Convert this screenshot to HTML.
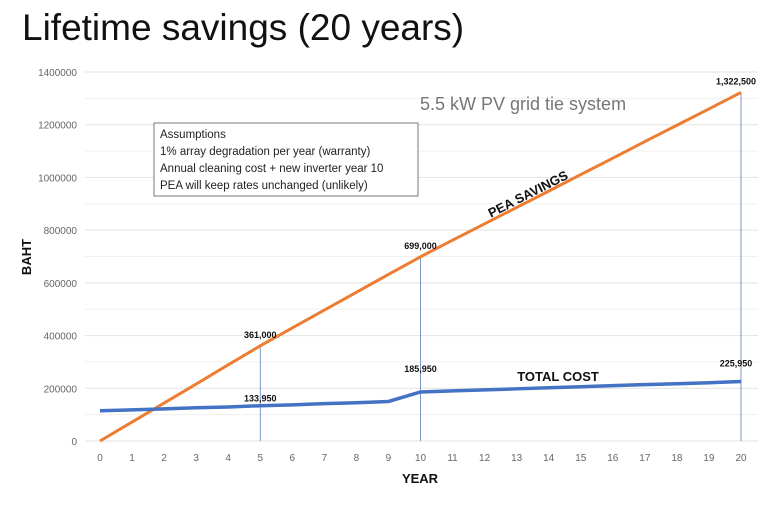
<!DOCTYPE html>
<html><head><meta charset="utf-8"><style>
body{margin:0;background:#fff;width:770px;height:510px;overflow:hidden;font-family:"Liberation Sans",sans-serif}
svg{position:absolute;left:0;top:0}
</style></head><body>
<svg id="c" width="770" height="510">
<text x="22" y="40" font-size="37" fill="#111">Lifetime savings (20 years)</text>
<g id="grid"></g><g id="yt"></g><g id="xt"></g><g id="drops"></g><g id="lines"></g><g id="lbls"></g>
<text x="420" y="110" font-size="18" fill="#777">5.5 kW PV grid tie system</text>
<g>
<rect x="154" y="123" width="264" height="73" fill="#fff" stroke="#777" stroke-width="1"/>
<text x="160" y="138" font-size="11.5" fill="#222">Assumptions</text>
<text x="160" y="155" font-size="11.5" fill="#222">1% array degradation per year (warranty)</text>
<text x="160" y="172" font-size="11.5" fill="#222">Annual cleaning cost + new inverter year 10</text>
<text x="160" y="189" font-size="11.5" fill="#222">PEA will keep rates unchanged (unlikely)</text>
</g>
<text x="530" y="198" font-size="13" font-weight="bold" fill="#111" transform="rotate(-27 530 198)" text-anchor="middle">PEA SAVINGS</text>
<text x="558" y="381" font-size="13" font-weight="bold" fill="#111" text-anchor="middle">TOTAL COST</text>
<text x="420" y="483" font-size="13" font-weight="bold" fill="#111" text-anchor="middle">YEAR</text>
<text x="31" y="257" font-size="13" font-weight="bold" fill="#111" text-anchor="middle" transform="rotate(-90 31 257)">BAHT</text>
</svg>
<script>
const years=[0,1,2,3,4,5,6,7,8,9,10,11,12,13,14,15,16,17,18,19,20];
const savings=[0,72000,144000,216000,289000,361000,429000,497000,564000,632000,699000,762000,824000,886000,948000,1011000,1073000,1136000,1198000,1260000,1322500];
const cost=[115000,118000,122000,126000,129000,133950,137000,142000,145000,150000,185950,190000,194000,198000,202000,206000,210000,214000,217000,221000,225950];
const yTicks=[0,200000,400000,600000,800000,1000000,1200000,1400000];
const savingsLabels=[[5,"361,000"],[10,"699,000"],[20,"1,322,500"]];
const costLabels=[[5,"133,950"],[10,"185,950"],[20,"225,950"]];
const NS="http://www.w3.org/2000/svg";
const X=v=>100+v*(641/20), Y=v=>441-v*(369/1400000);
function mk(p,t,a){const e=document.createElementNS(NS,t);for(const k in a)e.setAttribute(k,a[k]);document.getElementById(p).appendChild(e);return e;}
for(let v=0;v<=1400000;v+=100000){const e=mk('grid','line',{x1:85,x2:758,y1:Y(v),y2:Y(v),stroke:v%200000?'#f0f0f0':'#e2e2e2','stroke-width':1});

}
yTicks.forEach(v=>{const t=mk('yt','text',{x:77,y:Y(v)+4,'font-size':10,fill:'#666','text-anchor':'end'});t.textContent=v;

});
years.forEach(v=>{const t=mk('xt','text',{x:X(v),y:461,'font-size':10,fill:'#666','text-anchor':'middle'});t.textContent=v;

});
savingsLabels.forEach(([i])=>{const l=mk('drops','line',{x1:X(i),x2:X(i),y1:Y(savings[i]),y2:Y(0),stroke:'#5b7fb8','stroke-width':0.8});

});
const pts=a=>a.map((v,i)=>X(years[i])+','+Y(v)).join(' ');
const s=mk('lines','polyline',{points:pts(savings),fill:'none',stroke:'#ed7d31','stroke-width':3});


const c=mk('lines','polyline',{points:pts(cost),fill:'none',stroke:'#4472c4','stroke-width':3.5});


savingsLabels.forEach(([i,t])=>{const e=mk('lbls','text',{x:X(i)-(i==20?5:0),y:Y(savings[i])-8,'font-size':9,'font-weight':'bold',fill:'#111','text-anchor':'middle'});e.textContent=t;

});
costLabels.forEach(([i,t])=>{const e=mk('lbls','text',{x:X(i)-(i==20?5:0),y:Y(cost[i])-(i==5?4:i==10?20:15),'font-size':9,'font-weight':'bold',fill:'#111','text-anchor':'middle'});e.textContent=t;

});
</script>
</body></html>
